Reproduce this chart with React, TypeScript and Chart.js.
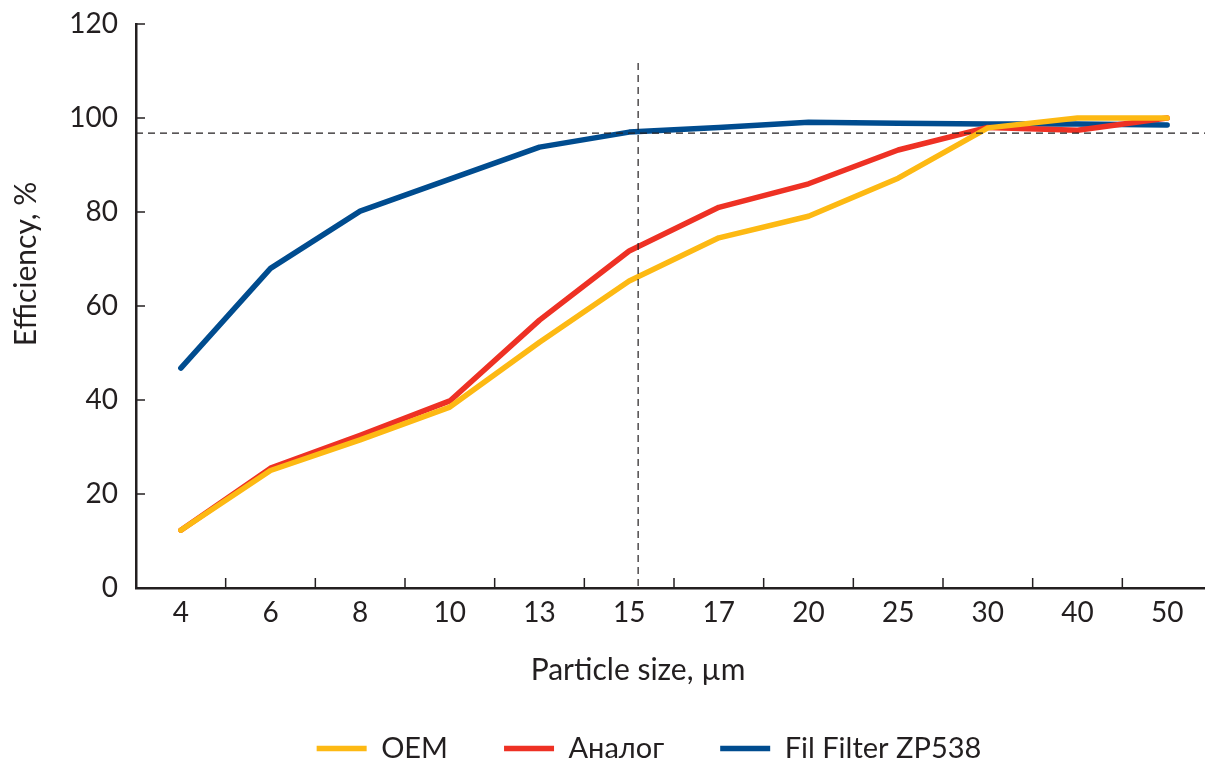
import React, { useEffect, useRef } from "react";
import { Chart, registerables } from "chart.js";

Chart.register(...registerables);

const categories = ["4", "6", "8", "10", "13", "15", "17", "20", "25", "30", "40", "50"];
const oemValues = [12.3, 25, 31.5, 38.5, 52.3, 65.3, 74.5, 79.1, 87.2, 97.9, 100, 100];
const analogValues = [12.3, 25.5, 32.5, 39.8, 57, 71.7, 81, 86, 93.2, 98, 97.4, 100];
const filValues = [46.8, 68, 80.2, 87, 93.8, 97, 98, 99.1, 98.9, 98.7, 98.7, 98.5];
const yTicks = [0, 20, 40, 60, 80, 100, 120];
const refEfficiency = 96.8;
const refCategoryPos = 5.1;
const refLineTop = 111.7;

const FONT = "Lato";
const INK = "#231f20";

const legendShiftPlugin = {
  id: "legendShift",
  beforeDraw(chart: any) {
    const l = chart.legend;
    if (l) {
      l.left = 86;
      l.right = chart.width;
      l.width = l.right - l.left;
    }
  },
};

const decorPlugin = {
  id: "decor",
  afterDatasetsDraw(chart: any) {
    const { ctx, chartArea } = chart;
    const x = chart.scales.x;
    const y = chart.scales.y;
    ctx.save();
    ctx.strokeStyle = "#231f20";
    ctx.lineWidth = 1.2;
    ctx.setLineDash([7, 5]);
    const yr = y.getPixelForValue(refEfficiency);
    ctx.beginPath();
    ctx.moveTo(chartArea.left, yr);
    ctx.lineTo(chartArea.right, yr);
    ctx.stroke();
    const xr = x.getPixelForValue(refCategoryPos);
    ctx.beginPath();
    ctx.moveTo(xr, y.getPixelForValue(refLineTop));
    ctx.lineTo(xr, chartArea.bottom);
    ctx.stroke();
    ctx.setLineDash([]);
    ctx.lineWidth = 1.5;
    ctx.strokeStyle = INK;
    yTicks.forEach((v) => {
      const py = y.getPixelForValue(v);
      ctx.beginPath();
      ctx.moveTo(chartArea.left, py);
      ctx.lineTo(chartArea.left + 9, py);
      ctx.stroke();
    });
    for (let i = 0; i < categories.length - 1; i++) {
      const px = (x.getPixelForValue(i) + x.getPixelForValue(i + 1)) / 2;
      ctx.beginPath();
      ctx.moveTo(px, chartArea.bottom);
      ctx.lineTo(px, chartArea.bottom - 10);
      ctx.stroke();
    }
    ctx.restore();
  },
  afterDraw(chart: any) {
    const { ctx } = chart;
    ctx.save();
    ctx.fillStyle = INK;
    ctx.font = `30px ${FONT}`;
    ctx.textAlign = "center";
    ctx.textBaseline = "middle";
    ctx.fillText("Particle size, µm", 638, 670);
    ctx.translate(26, 264);
    ctx.rotate(-Math.PI / 2);
    ctx.fillText("Efficiency, %", 0, 0);
    ctx.restore();
  },
};

export default function App() {
  const ref = useRef<HTMLCanvasElement | null>(null);
  useEffect(() => {
    if (!ref.current) return;
    const mk = (label: string, data: number[], color: string) => ({
      label,
      data,
      borderColor: color,
      backgroundColor: color,
      borderWidth: 5.5,
      borderCapStyle: "round",
      borderJoinStyle: "round",
      pointRadius: 0,
      pointHoverRadius: 0,
      tension: 0,
      fill: false,
    });
    const chart = new Chart(ref.current, {
      type: "line",
      data: {
        labels: categories,
        datasets: [
          mk("OEM", oemValues, "#fdb913"),
          mk("Аналог", analogValues, "#ee3124"),
          mk("Fil Filter ZP538", filValues, "#004c8f"),
        ],
      },
      options: {
        animation: false,
        responsive: false,
        maintainAspectRatio: false,
        layout: { padding: { left: 0, right: 0, top: 24, bottom: -9 } },
        plugins: {
          tooltip: { enabled: false },
          legend: {
            position: "bottom",
            labels: {
              usePointStyle: true,
              pointStyle: "line",
              pointStyleWidth: 50,
              padding: 56,
              color: INK,
              font: { family: FONT, size: 29 },
            },
          },
        },
        scales: {
          x: {
            type: "category",
            offset: true,
            grid: { display: false, drawTicks: false },
            border: { display: true, color: INK, width: 2.5 },
            ticks: {
              color: INK,
              font: { family: FONT, size: 28 },
              padding: 8,
              maxRotation: 0,
              autoSkip: false,
            },
            afterFit: (s: any) => {
              s.height = 90;
            },
          },
          y: {
            min: 0,
            max: 120,
            grid: { display: false, drawTicks: false },
            border: { display: true, color: INK, width: 2.5 },
            ticks: {
              stepSize: 20,
              color: INK,
              font: { family: FONT, size: 28 },
              padding: 18,
            },
            afterFit: (s: any) => {
              s.width = 136;
              s.paddingTop = 0;
              s.paddingBottom = 0;
            },
          },
        },
      },
      plugins: [decorPlugin, legendShiftPlugin],
    } as any);
    return () => chart.destroy();
  }, []);
  return (
    <div style={{ position: "fixed", left: 0, top: 0, width: 1212, height: 764, background: "#fff" }}>
      <canvas ref={ref} width={1212} height={764} style={{ width: 1212, height: 764 }} />
    </div>
  );
}
